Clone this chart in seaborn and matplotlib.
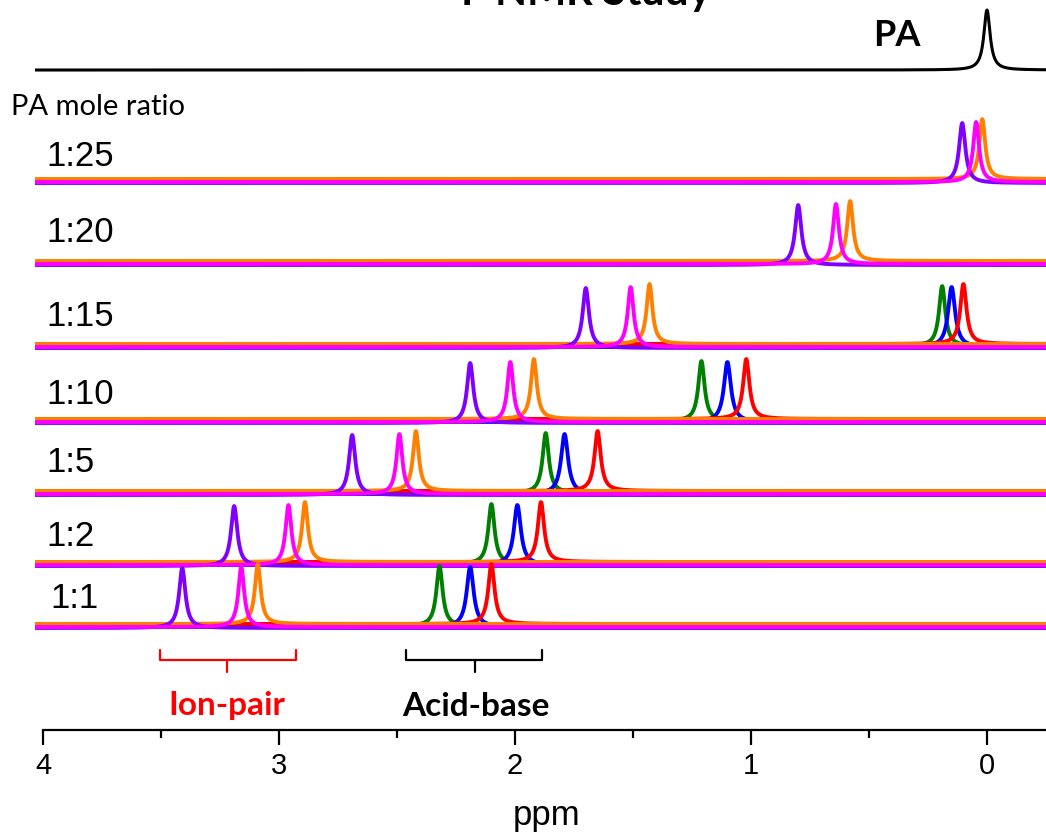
import numpy as np
import pandas as pd
import matplotlib
matplotlib.use('Agg')
import matplotlib.pyplot as plt
import seaborn as sns

# ratio rows (top to bottom) and the peak shifts (ppm)
ratios = ['1:25', '1:20', '1:15', '1:10', '1:5', '1:2', '1:1']
baselines = [550, 468, 385, 310, 238, 167, 105]   # stacking offset of each row
label_y = [574, 498, 413, 335, 268, 193, 131]

# ion-pair peaks
purple = [0.105, 0.80, 1.70, 2.19, 2.69, 3.19, 3.41]
magenta = [0.046, 0.64, 1.51, 2.02, 2.49, 2.96, 3.16]
orange = [0.020, 0.58, 1.43, 1.92, 2.42, 2.89, 3.09]
# acid-base peaks (not seen for 1:25 and 1:20)
green = [None, None, 0.19, 1.21, 1.87, 2.10, 2.32]
blue = [None, None, 0.15, 1.10, 1.79, 1.99, 2.19]
red = [None, None, 0.10, 1.02, 1.65, 1.89, 2.10]

pa_shift = 0.0
pa_base = 660

peak_height = 60
colors = {'purple': '#8000ff', 'magenta': '#ff00ff', 'orange': '#ff8000',
          'green': '#008000', 'blue': '#0000ff', 'red': '#ff0000'}
series = {'green': green, 'blue': blue, 'red': red,
          'orange': orange, 'purple': purple, 'magenta': magenta}
shift_px = {'purple': -3, 'magenta': -2, 'orange': 1, 'green': -1, 'blue': -2, 'red': 1}
widths = {'purple': 0.016, 'magenta': 0.015, 'orange': 0.015,
          'green': 0.016, 'blue': 0.018, 'red': 0.016}

ppm = np.linspace(4.04, -0.26, 2500)


def lorentz(x0, g):
    return peak_height * g**2 / ((ppm - x0)**2 + g**2)


rows = []
for i, r in enumerate(ratios):
    for name, vals in series.items():
        if vals[i] is None:
            continue
        y = baselines[i] + shift_px[name] + lorentz(vals[i], widths[name])
        rows.append(pd.DataFrame({'ppm': ppm, 'y': y, 'ratio': r, 'color': name}))
df = pd.concat(rows, ignore_index=True)

sns.set_style('white')
plt.rcParams['font.family'] = ['Liberation Sans', 'DejaVu Sans']
plt.rcParams['text.color'] = 'black'

fig = plt.figure(figsize=(10.46, 8.35), dpi=100)
ax = fig.add_axes([35 / 1046, 105 / 835, 1011 / 1046, 730 / 835])

for r in ratios:
    sub = df[df['ratio'] == r]
    sns.lineplot(data=sub, x='ppm', y='y', hue='color', palette=colors,
                 units='color', estimator=None, sort=False, legend=False,
                 lw=2.8, ax=ax)

pa = pd.DataFrame({'ppm': ppm, 'y': pa_base + lorentz(pa_shift, 0.016)})
sns.lineplot(data=pa, x='ppm', y='y', color='black', lw=2.2, sort=False,
             estimator=None, ax=ax)

ax.set_xlim(4.034, -0.25)
ax.set_ylim(0, 730)
for s in ['left', 'top', 'right']:
    ax.spines[s].set_visible(False)
ax.spines['bottom'].set_linewidth(1.6)
ax.spines['bottom'].set_color('black')
ax.spines['bottom'].set_bounds(4.0, -0.25)
ax.set_yticks([])
ax.set_xticks([4, 3, 2, 1, 0])
ax.set_xticklabels(['4', '3', '2', '1', '0'])
ax.set_xticks([3.5, 2.5, 1.5, 0.5], minor=True)
ax.tick_params(axis='x', which='major', direction='out', length=10.5, width=1.6,
               labelsize=21, pad=5, bottom=True, colors='black', labelcolor='black')
ax.tick_params(axis='x', which='minor', direction='out', length=6, width=1.6,
               bottom=True, colors='black')
ax.set_xlabel('')
ax.set_ylabel('')

for r, yy in zip(ratios, label_y):
    ax.text(3.985 if r != '1:1' else 3.97, yy, r, fontsize=25, ha='left', va='center',
            color='black')

# brackets
ax.plot([3.506, 3.506, 2.93, 2.93], [80, 70, 70, 80], color='red', lw=1.6)
ax.plot([3.22, 3.22], [70, 58], color='red', lw=1.6)
ax.plot([2.46, 2.46, 1.886, 1.886], [80, 70, 70, 80], color='black', lw=1.6)
ax.plot([2.17, 2.17], [70, 58], color='black', lw=1.6)
ax.text(3.22, 24, 'Ion-pair', color='red', fontsize=24, fontweight='bold',
        ha='center', va='center', family=['Lato', 'DejaVu Sans'])
ax.text(2.166, 24, 'Acid-base', color='black', fontsize=24, fontweight='bold',
        ha='center', va='center', family=['Lato', 'DejaVu Sans'])

ax.text(0.38, 695, 'PA', fontsize=26, fontweight='bold', ha='center', va='center',
        color='black', family=['Lato', 'DejaVu Sans'])

fig.text(11 / 1046, 1 - 107 / 835, 'PA mole ratio', fontsize=21, ha='left', va='center',
         color='black', family=['Lato', 'DejaVu Sans'])
fig.text(567 / 1046, 1 - 15 / 835, '$^{19}$F NMR Study', fontsize=30, fontweight='bold',
         ha='center', va='bottom', color='black', family=['Lato', 'DejaVu Sans'])
fig.text(547 / 1046, 1 - 815 / 835, 'ppm', fontsize=25, ha='center', va='center',
         color='black')

fig.savefig('out.png', dpi=100)
